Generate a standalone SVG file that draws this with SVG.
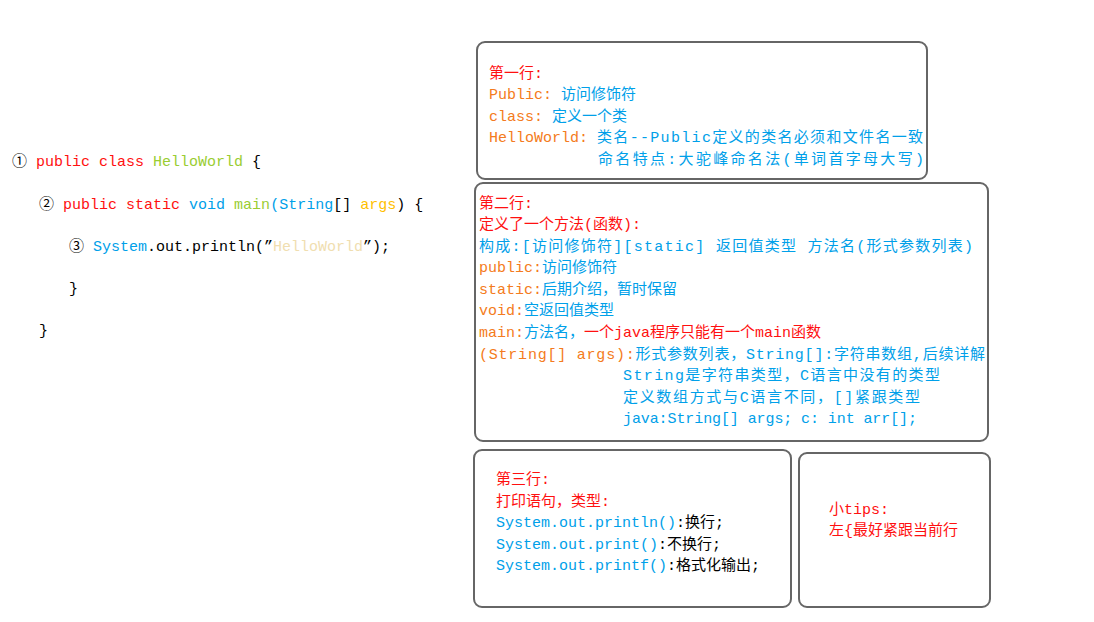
<svg xmlns="http://www.w3.org/2000/svg" width="1094" height="622" viewBox="0 0 1094 622">
<style>
text{font-family:"Liberation Mono","Noto Sans CJK SC",monospace;font-size:15px;white-space:pre}
.box{fill:#fff;stroke:#666;stroke-width:2}
.r{fill:#ff1010}.o{fill:#f47b20}.b{fill:#00a0e9}.g{fill:#9acd32}.y{fill:#ffc000}.p{fill:#f0deb0}.k{fill:#000}
</style>
<rect width="1094" height="622" fill="#fff"/>
<g id="code">
<text x="12" y="166"><tspan class="k">①</tspan> <tspan class="r">public class</tspan> <tspan class="g">HelloWorld</tspan> <tspan class="k">{</tspan></text>
<text x="39" y="209"><tspan class="k">②</tspan> <tspan class="r">public static</tspan> <tspan class="b">void</tspan> <tspan class="g">main</tspan><tspan class="b">(String</tspan><tspan class="k">[]</tspan> <tspan class="y">args</tspan><tspan class="k">) {</tspan></text>
<text x="69" y="251"><tspan class="k">③</tspan> <tspan class="b">System</tspan><tspan class="k">.out.println(”</tspan><tspan class="p">HelloWorld</tspan><tspan class="k">”);</tspan></text>
<text x="69" y="293" class="k">}</text>
<text x="39" y="335" class="k">}</text>
</g>
<g id="box1">
<rect class="box" x="477" y="42" width="450" height="137" rx="8"/>
<text x="489" y="78" class="r">第一行:</text>
<text x="489" y="99"><tspan class="o">Public: </tspan><tspan class="b">访问修饰符</tspan></text>
<text x="489" y="121"><tspan class="o">class: </tspan><tspan class="b">定义一个类</tspan></text>
<text x="489" y="142"><tspan class="o">HelloWorld: </tspan><tspan class="b" textLength="326">类名--Public定义的类名必须和文件名一致</tspan></text>
<text x="598" y="164" class="b" textLength="326">命名特点:大驼峰命名法(单词首字母大写)</text>
</g>
<g id="box2">
<rect class="box" x="475" y="183" width="513" height="258" rx="8"/>
<text x="479" y="208" class="r">第二行:</text>
<text x="479" y="229" class="r">定义了一个方法(函数):</text>
<text x="479" y="251" class="b" textLength="494">构成:[访问修饰符][static] 返回值类型 方法名(形式参数列表)</text>
<text x="479" y="272"><tspan class="o">public:</tspan><tspan class="b">访问修饰符</tspan></text>
<text x="479" y="294"><tspan class="o">static:</tspan><tspan class="b">后期介绍，暂时保留</tspan></text>
<text x="479" y="315"><tspan class="o">void:</tspan><tspan class="b">空返回值类型</tspan></text>
<text x="479" y="337"><tspan class="o">main:</tspan><tspan class="b">方法名，</tspan><tspan class="r">一个java程序只能有一个main函数</tspan></text>
<text x="479" y="359" textLength="506"><tspan class="o">(String[] args):</tspan><tspan class="b">形式参数列表，String[]:字符串数组,后续详解</tspan></text>
<text x="623" y="380" class="b" textLength="317">String是字符串类型，C语言中没有的类型</text>
<text x="623" y="402" class="b" textLength="297">定义数组方式与C语言不同，[]紧跟类型</text>
<text x="623" y="423" class="b" textLength="294">java:String[] args; c: int arr[];</text>
</g>
<g id="box3">
<rect class="box" x="474" y="450" width="317" height="157" rx="8"/>
<text x="496" y="484" class="r">第三行:</text>
<text x="496" y="506" class="r">打印语句，类型:</text>
<text x="496" y="527"><tspan class="b">System.out.println()</tspan><tspan class="k">:换行;</tspan></text>
<text x="496" y="549"><tspan class="b">System.out.print()</tspan><tspan class="k">:不换行;</tspan></text>
<text x="496" y="570"><tspan class="b">System.out.printf()</tspan><tspan class="k">:格式化输出;</tspan></text>
</g>
<g id="box4">
<rect class="box" x="799" y="453" width="191" height="154" rx="8"/>
<text x="829" y="514" class="r">小tips:</text>
<text x="829" y="535" class="r">左{最好紧跟当前行</text>
</g>
<g id="connectors"/>
</svg>
